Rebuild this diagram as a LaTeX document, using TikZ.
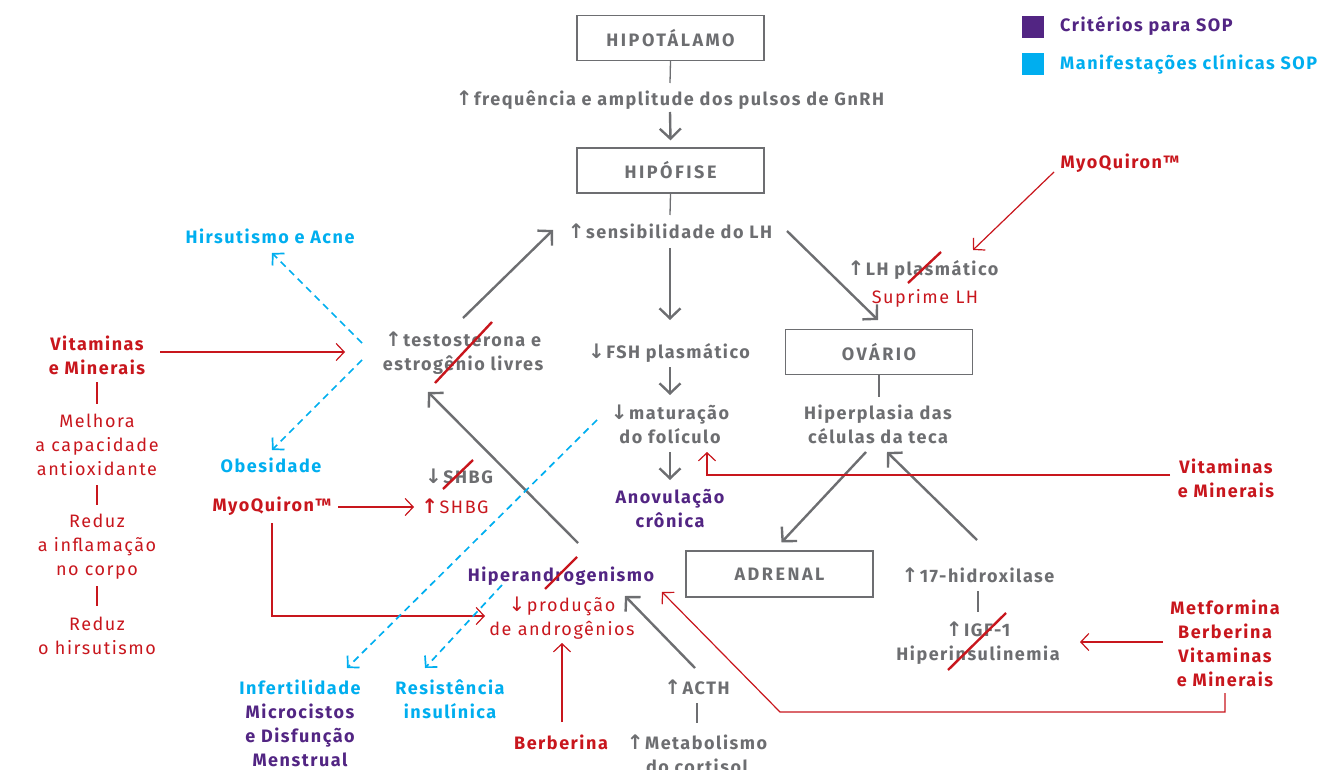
\documentclass[tikz,border=0pt]{standalone}
\usepackage{fontspec}
\setmainfont{Fira Sans}[LetterSpace=8.5]
\newfontfamily\arr{DejaVu Sans}
\usetikzlibrary{arrows.meta,calc}
\definecolor{tgray}{HTML}{6D6E71}
\definecolor{tred}{HTML}{C8161D}
\definecolor{tpurple}{HTML}{522583}
\definecolor{tcyan}{HTML}{00AEEF}
\newcommand\upa{{\arr\fontsize{20}{24}\selectfont\char"2191}\kern1.5pt}
\newcommand\dna{{\arr\fontsize{20}{24}\selectfont\char"2193}\kern1.5pt}
\tikzset{
  lbl/.style={font=\fontsize{18}{24}\selectfont\bfseries, align=center, inner sep=0pt},
  g/.style={lbl,text=tgray},
  r/.style={lbl,text=tred},
  p/.style={lbl,text=tpurple},
  c/.style={lbl,text=tcyan},
  rn/.style={font=\fontsize{18}{24}\selectfont, align=center, inner sep=0pt, text=tred},
  organ/.style={draw=tgray, line width=1.3pt, minimum width=187pt, minimum height=45pt, inner sep=0pt,
    font=\fontsize{18}{24}\selectfont\bfseries\addfontfeature{LetterSpace=14}, text=tgray},
  gline/.style={draw=tgray, line width=1.3pt},
  garrow/.style={draw=tgray, line width=2.4pt, -{Straight Barb[length=10pt,width=21pt,line width=2.4pt]}},
  rline/.style={draw=tred, line width=1.2pt},
  rarrow/.style={draw=tred, line width=1.2pt, -{Straight Barb[length=8pt,width=17pt,line width=1.2pt]}},
  cdash/.style={draw=tcyan, line width=1.7pt, dash pattern=on 7pt off 5pt, -{Straight Barb[length=8pt,width=17pt,line width=1.7pt]}},
  slash/.style={draw=tred, line width=2.4pt},
  legsq/.style={minimum size=22pt, inner sep=0pt},
}
\begin{document}
\begin{tikzpicture}[x=1pt,y=-1pt]
\useasboundingbox (0,0) rectangle (1336,770);
% legend
\node[legsq, fill=tpurple] (lg1) at (1033,27) {};
\node[p, anchor=west] (lg1t) at (1060,26) {Critérios para SOP};
\node[legsq, fill=tcyan] (lg2) at (1033,64) {};
\node[c, anchor=west] (lg2t) at (1060,64) {Manifestações clínicas SOP};
% central column
\node[organ] (hipo) at (670.5,38) {HIPOTÁLAMO};
\node[g] (gnrh) at (670,100) {\upa frequência e amplitude dos pulsos de GnRH};
\node[organ] (hipof) at (670.5,170.5) {HIPÓFISE};
\node[g] (sens) at (670,231) {\upa sensibilidade do LH};
\node[g] (fsh) at (669,353) {\dna FSH plasmático};
\node[g] (mat) at (670,424) {\dna maturação\\do folículo};
\node[p] (anov) at (670,509) {Anovulação\\crônica};
% ovary
\node[organ] (ovario) at (879,352) {OVÁRIO};
\node[g] (hiperp) at (878,424) {Hiperplasia das\\células da teca};
\node[g] (lhp) at (923,270) {\upa LH plasmático};
\node[rn] (suprime) at (925,298) {Suprime LH};
\node[r] (myo1) at (1120,163) {MyoQuiron™};
% left
\node[g] (testo) at (463,353) {\upa testosterona e\\estrogênio livres};
\node[c] (hirs) at (270,236) {Hirsutismo e Acne};
\node[c] (obes) at (271,465) {Obesidade};
\node[r] (vit1) at (97,355) {Vitaminas\\e Minerais};
\node[rn] (melh) at (97,445) {Melhora\\a capacidade\\antioxidante};
\node[rn] (infl) at (97,547) {Reduz\\a inflamação\\no corpo};
\node[rn] (hirsr) at (97,636) {Reduz\\o hirsutismo};
\node[g] (shbgd) at (459,476) {\dna SHBG};
\node[r] (myo2) at (272,506) {MyoQuiron™};
\node[rn] (shbgu) at (455,506) {{\bfseries\upa}SHBG};
\node[p] (hiper) at (561,576) {Hiperandrogenismo};
\node[rn] (prod) at (562,618) {\dna produção\\de androgênios};
\node[r] (berb) at (561,742) {Berberina};
\node[c] (infert) at (300,687) {Infertilidade};
\node[p] (micro) at (300,735) {Microcistos\\e Disfunção\\Menstrual};
\node[c] (resist) at (450,699) {Resistência\\insulínica};
% bottom center/right
\node[g] (acth) at (697,687) {\upa ACTH};
\node[g] (metab) at (697,754) {\upa Metabolismo\\do cortisol};
\node[organ, minimum height=46pt] (adrenal) at (779.5,574) {ADRENAL};
\node[g] (hidrox) at (978,575) {\upa 17-hidroxilase};
\node[g] (igf) at (978,643) {\upa IGF-1\\Hiperinsulinemia};
\node[r] (metf) at (1225,643) {Metformina\\Berberina\\Vitaminas\\e Minerais};
\node[r] (vit2) at (1226,478) {Vitaminas\\e Minerais};

% connectors: central column
\draw[gline] (hipo.south) -- ($(gnrh)+(0,-17)$);
\draw[garrow] ($(gnrh)+(0,12)$) -- ($(hipof.north)+(0,-7)$);
\draw[gline] (hipof.south) -- ($(sens)+(0,-16)$);
\draw[garrow] ($(sens)+(0,17)$) -- ($(fsh)+(1,-33)$);
\draw[garrow] ($(fsh)+(1,14)$) -- ($(mat)+(0,-29)$);
\draw[garrow] ($(mat)+(0,28)$) -- ($(anov)+(0,-29)$);
\draw[garrow] ($(sens)+(117,0)$) -- ($(ovario)+(-1,-32)$);
\draw[gline] (ovario.south) -- ($(hiperp)+(1,-27)$);
% LH
\draw[rarrow] ($(myo1)+(-66,9)$) -- ($(lhp)+(50,-20)$);
\draw[slash] ($(lhp)+(-15,13)$) -- ($(lhp)+(18,-18)$);
% testosterone
\draw[garrow] ($(testo)+(0,-35)$) -- ($(sens)+(-117,-1)$);
\draw[slash] ($(testo)+(-28,30)$) -- ($(testo)+(29,-31)$);
\draw[cdash] ($(testo)+(-101,-10)$) -- ($(hirs)+(2,17)$);
\draw[cdash] ($(testo)+(-101,7)$) -- ($(obes)+(1,-15)$);
\draw[rarrow] ($(vit1)+(63,-3)$) -- ($(testo)+(-118,-1)$);
\draw[rline] ($(vit1)+(0,27)$) -- ($(melh)+(0,-41)$);
\draw[rline] ($(melh)+(0,40)$) -- ($(infl)+(0,-42)$);
\draw[rline] ($(infl)+(0,39)$) -- ($(hirsr)+(0,-30)$);
% SHBG
\draw[slash] ($(shbgd)+(-16,13)$) -- ($(shbgd)+(14,-16)$);
\draw[rarrow] ($(myo2)+(66,1)$) -- ($(shbgu)+(-41,1)$);
\draw[rarrow] ($(myo2)+(0,17)$) |- ($(prod)+(-77,-2)$);
% hyperandrogenism
\draw[garrow] ($(hiper)+(17,-33)$) -- ($(testo)+(-35,39)$);
\draw[slash] ($(hiper)+(-16,13)$) -- ($(hiper)+(16,-19)$);
\draw[rarrow] ($(berb)+(1,-20)$) -- ($(prod)+(0,25)$);
\draw[cdash] ($(mat)+(-73,-4)$) -- ($(infert)+(47,-19)$);
\draw[cdash] ($(hiper)+(-59,9)$) -- ($(resist)+(-25,-31)$);
\draw[garrow] ($(acth)+(-2,-19)$) -- ($(hiper)+(64,20)$);
\draw[gline] ($(acth)+(0,16)$) -- ($(metab)+(0,-31)$);
% adrenal / theca
\draw[garrow] ($(hiperp)+(-12,28)$) -- ($(adrenal.north)+(2,-8)$);
\draw[garrow] ($(hidrox)+(-1,-35)$) -- ($(hiperp)+(9,28)$);
\draw[gline] ($(hidrox)+(0,16)$) -- ($(igf)+(0,-31)$);
\draw[slash] ($(igf)+(-30,27)$) -- ($(igf)+(28,-30)$);
\draw[rarrow] ($(metf)+(-62,-1)$) -- ($(igf)+(102,-1)$);
\coordinate (mcorner) at ($(metf)+(-445,69)$);
\draw[rarrow] ($(metf)+(0,50)$) -- ($(metf)+(0,69)$) -- (mcorner) -- ($(hiper)+(101,16)$);
\draw[rarrow] ($(vit2)+(-56,-3)$) -- ($(mat)+(37,51)$) -- ($(mat)+(37,28)$);
\end{tikzpicture}
\end{document}
